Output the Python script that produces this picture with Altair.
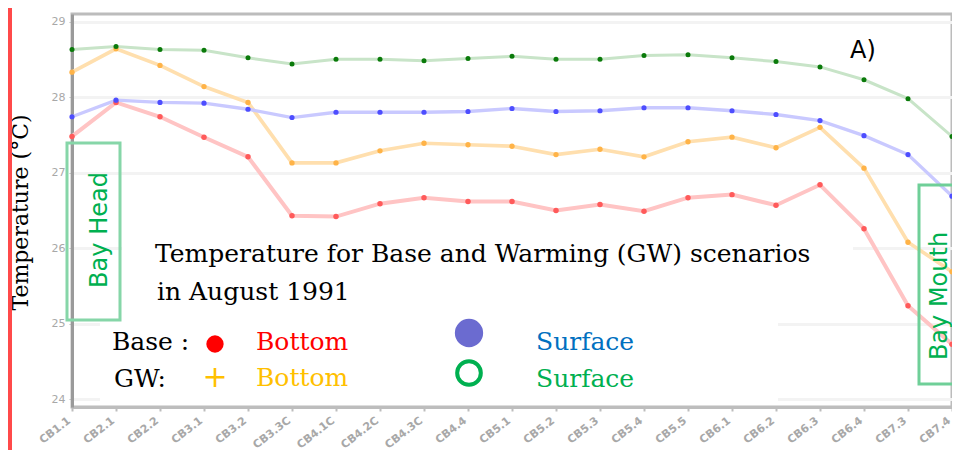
import altair as alt
import pandas as pd

stations = ["CB1.1", "CB2.1", "CB2.2", "CB3.1", "CB3.2", "CB3.3C", "CB4.1C",
            "CB4.2C", "CB4.3C", "CB4.4", "CB5.1", "CB5.2", "CB5.3", "CB5.4",
            "CB5.5", "CB6.1", "CB6.2", "CB6.3", "CB6.4", "CB7.3", "CB7.4"]

base_bottom = [27.48, 27.93, 27.74, 27.47, 27.21, 26.43, 26.42, 26.59, 26.67, 26.62, 26.62,
               26.50, 26.58, 26.49, 26.67, 26.71, 26.57, 26.84, 26.26, 25.24, 24.73]
gw_bottom = [28.33, 28.64, 28.42, 28.14, 27.93, 27.13, 27.13, 27.29, 27.39, 27.37, 27.35,
             27.24, 27.31, 27.21, 27.41, 27.47, 27.33, 27.60, 27.06, 26.08, 25.69]
base_surface = [27.74, 27.96, 27.93, 27.92, 27.84, 27.73, 27.80, 27.80, 27.80, 27.81, 27.85,
                27.81, 27.82, 27.86, 27.86, 27.82, 27.77, 27.69, 27.49, 27.24, 26.69]
gw_surface = [28.63, 28.67, 28.63, 28.62, 28.52, 28.44, 28.50, 28.50, 28.48, 28.51, 28.54,
              28.50, 28.50, 28.55, 28.56, 28.52, 28.47, 28.40, 28.23, 27.98, 27.48]

y_ticks = [24, 25, 26, 27, 28, 29]

series_names = ["Base Bottom", "GW Bottom", "Base Surface", "GW Surface"]
line_colors = ["#ffc4c4", "#ffdfae", "#c9c9ff", "#c8e4c8"]
line_widths = [4, 3, 6, 5]
point_colors = ["#ff5a5a", "#ffb347", "#4d4dff", "#0a7a0a"]
point_sizes = [30, 25, 40, 90]

rows = []
for name, vals in zip(series_names, [base_bottom, gw_bottom, base_surface, gw_surface]):
    for i, (s, v) in enumerate(zip(stations, vals)):
        rows.append({"station": s, "temp": v, "series": name, "idx": i})
df = pd.DataFrame(rows)

x_enc = alt.X(
    "station:N", sort=stations,
    scale=alt.Scale(type="point", padding=0),
    axis=alt.Axis(title=None, labelAngle=-38, labelColor="#a8a8a8", labelFontSize=11,
                  labelFont="DejaVu Sans", labelFontWeight="bold",
                  labelAlign="right", labelBaseline="bottom",
                  domainColor="#bdbdbd", domainWidth=3, tickColor="#bdbdbd", tickSize=4,
                  tickWidth=2, gridColor="#eeeeee", gridWidth=3, labelPadding=12),
)
y_enc = alt.Y(
    "temp:Q",
    scale=alt.Scale(domain=[23.9, 29.1], nice=False, zero=False),
    axis=alt.Axis(values=y_ticks, format="d", title="Temperature (\u00b0C)", titleFont="DejaVu Serif",
                  titleFontSize=22, titleFontWeight="normal", titleColor="black",
                  titleX=-52, titleY=198, titleAngle=270, titleAlign="center",
                  titleBaseline="middle",
                  labelColor="#a8a8a8", labelFontSize=11, labelFont="DejaVu Sans",
                  labelPadding=4, domainColor="#9a9a9a", domainWidth=3,
                  tickColor="#bbbbbb", tickSize=3, gridColor="#f3f3f3", gridWidth=3),
)

lines = alt.Chart(df).mark_line().encode(
    x=x_enc, y=y_enc,
    color=alt.Color("series:N", scale=alt.Scale(domain=series_names, range=line_colors), legend=None),
    strokeWidth=alt.StrokeWidth("series:N", scale=alt.Scale(domain=series_names, range=line_widths), legend=None),
    order="idx:Q",
)
points = alt.Chart(df).mark_circle(opacity=1).encode(
    x=alt.X("station:N", sort=stations),
    y="temp:Q",
    fill=alt.Fill("series:N", scale=alt.Scale(domain=series_names, range=point_colors), legend=None),
    size=alt.Size("series:N", scale=alt.Scale(domain=series_names, range=point_sizes), legend=None),
)


def one(text):
    return alt.Chart(pd.DataFrame({"t": [text]}))


# white backgrounds of the text boxes (hide gridlines)
bg1 = one("a").mark_rect(fill="white").encode(
    x=alt.value(50), x2=alt.value(781), y=alt.value(208), y2=alt.value(309))
bg2 = one("b").mark_rect(fill="white").encode(
    x=alt.value(28), x2=alt.value(706), y=alt.value(309), y2=alt.value(391))

serif = "DejaVu Serif"
texts = []


def txt(t, x, y, color="black", size=25, font=serif, angle=0, align="left", baseline="alphabetic"):
    texts.append(one(t).mark_text(font=font, fontSize=size, color=color, align=align,
                                  baseline=baseline, angle=angle).encode(
        x=alt.value(x), y=alt.value(y), text="t:N"))


txt("Temperature for Base and Warming (GW) scenarios", 83, 248)
txt("in August 1991", 85, 286)
txt("Base :", 40, 336)
txt("GW:", 42, 373)
txt("Bottom", 184, 336, color="#ff0000")
txt("Bottom", 184, 372, color="#ffc000")
txt("Surface", 464, 336, color="#0070c0")
txt("Surface", 464, 373, color="#00b050")
txt("+", 143, 364, color="#ffc000", size=30, font="DejaVu Sans", align="center", baseline="middle")
txt("A)", 778, 44, size=24, font="DejaVu Sans")
txt("Bay Head", 28, 216, color="#00b050", size=24, font="DejaVu Sans", angle=270,
    align="center", baseline="middle")
txt("Bay Mouth", 868, 282, color="#00b050", size=24, font="DejaVu Sans", angle=270,
    align="center", baseline="middle")

red_dot = one("r").mark_point(shape="circle", filled=True, fill="#ff0000", opacity=1, size=300).encode(
    x=alt.value(143), y=alt.value(330))
blue_dot = one("bl").mark_point(shape="circle", filled=True, fill="#6b6bd0", opacity=1, size=800).encode(
    x=alt.value(397), y=alt.value(319))
green_ring = one("g").mark_point(shape="circle", filled=False, stroke="#00b050", strokeWidth=4,
                                 opacity=1, size=560).encode(
    x=alt.value(397), y=alt.value(359))

box_head = one("h").mark_rect(fill="white", fillOpacity=0, stroke="#86d6a8", strokeWidth=3).encode(
    x=alt.value(-5), x2=alt.value(48), y=alt.value(129), y2=alt.value(306))
box_mouth = one("m").mark_rect(fill="white", fillOpacity=0, stroke="#6fcf98", strokeWidth=3).encode(
    x=alt.value(847), x2=alt.value(900), y=alt.value(171), y2=alt.value(370))

red_edge = one("e").mark_rect(fill="#ff4a4a").encode(
    x=alt.value(-64), x2=alt.value(-60), y=alt.value(-6), y2=alt.value(436))

chart = alt.layer(
    bg1, bg2, lines, points, box_head, box_mouth, red_dot, blue_dot, green_ring, red_edge, *texts
).properties(
    width=880, height=393,
    autosize=alt.AutoSizeParams(type="none"),
    padding={"left": 64, "top": 6, "right": 0, "bottom": 43},
).configure_view(stroke="#bcbcbc", strokeWidth=3)

chart.save("out.html", embed_options={"renderer": "svg", "actions": False})
